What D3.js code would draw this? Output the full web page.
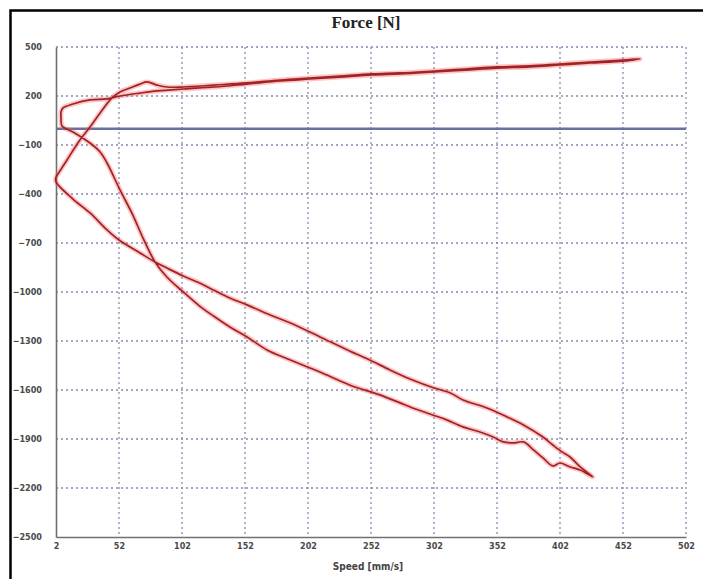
<!DOCTYPE html>
<html>
<head>
<meta charset="utf-8">
<script src="https://cdn.jsdelivr.net/npm/d3@7"></script>
<style>
  body { margin: 0; background: #fff; }
  svg { display: block; }
</style>
</head>
<body>
<svg id="chart"></svg>
<script>
// tick values
var xTicks = [2, 52, 102, 152, 202, 252, 302, 352, 402, 452, 502];
var yTicks = [500, 200, -100, -400, -700, -1000, -1300, -1600, -1900, -2200, -2500];

// loop, in drawing order
// upper stroke: rising from the left axis, out to the end and back
var upSpeed = [2, 10.7, 21, 29, 37, 46.4, 52.8, 60.7, 68.7, 74.2, 82.2, 90, 103, 128, 153.6, 180, 203, 227, 253, 275, 302, 327, 352, 378, 402, 426, 452, 465.5,
    452, 426, 402, 378, 352, 327, 302, 275, 253, 227, 203, 180, 153.6, 128, 103, 82.2, 68.7, 52.8, 42.5, 29, 15.5, 7.6, 6, 6, 6.8];
var upForce = [-296, -192, -69, 10, 96, 188, 225, 249, 273, 286, 267, 255, 255, 267, 280, 298, 310, 322, 335, 341, 353, 365, 378, 384, 396, 408, 420, 427,
    414, 402, 390, 378, 371, 359, 347, 335, 329, 316, 304, 292, 273, 255, 243, 231, 218, 200, 182, 176, 151, 127, 102, 65, 16];

// lower stroke: down to the tip and back to the left axis
var downSpeed = [15.5, 29, 37, 42.5, 52.8, 63, 71, 80.6, 90, 103, 116, 127, 140, 153.6, 169.5, 188, 211.5, 235, 259, 275, 285, 301, 312, 325, 338.5, 349, 357, 365, 373, 381, 388.5, 396.4, 402, 410, 418, 428,
    418, 410, 403.6, 396.4, 388.5, 373, 360, 344, 325, 315, 301, 285, 267, 251, 235, 211.5, 188, 172, 153.6, 140, 127, 116, 103, 90, 80.6, 68.7, 52, 42.5, 29, 15.5, 2, 2];
var downForce = [-20, -88, -143, -210, -375, -529, -669, -816, -908, -1000, -1086, -1147, -1214, -1275, -1355, -1416, -1490, -1569, -1630, -1679, -1710, -1753, -1783, -1826, -1857, -1888, -1918, -1924, -1918, -1967, -2016, -2065, -2047, -2071, -2090, -2132,
    -2071, -2010, -1979, -1937, -1888, -1814, -1765, -1710, -1661, -1618, -1585, -1539, -1477, -1416, -1361, -1275, -1190, -1141, -1079, -1037, -988, -945, -902, -853, -816, -761, -682, -620, -516, -431, -326, -296];

var width = 703,
    height = 579;

var svg = d3.select("#chart")
    .attr("width", width)
    .attr("height", height);

svg.append("rect")
    .attr("x", 0).attr("y", 0)
    .attr("width", width).attr("height", height)
    .attr("fill", "#fff");

// outer frame
svg.append("rect")
    .attr("x", 10.5).attr("y", 10.5)
    .attr("width", 700).attr("height", 600)
    .attr("fill", "none")
    .attr("stroke", "#000")
    .attr("stroke-width", 2.5);

var x = d3.scaleLinear().domain([2, 502]).range([56, 686]);
var y = d3.scaleLinear().domain([-2500, 500]).range([537, 47]);

var grid = svg.append("g").attr("class", "grid");

grid.selectAll("line.vgrid")
    .data(xTicks.slice(1))
    .enter().append("line")
    .attr("class", "vgrid")
    .attr("x1", function (d) { return x(d); })
    .attr("x2", function (d) { return x(d); })
    .attr("y1", y(500))
    .attr("y2", y(-2500))
    .attr("stroke", "#858bb0")
    .attr("stroke-width", 1.3)
    .attr("stroke-dasharray", "2,3");

grid.selectAll("line.hgrid")
    .data(yTicks.slice(0, -1))
    .enter().append("line")
    .attr("class", "hgrid")
    .attr("x1", x(2))
    .attr("x2", x(502))
    .attr("y1", function (d) { return y(d); })
    .attr("y2", function (d) { return y(d); })
    .attr("stroke", "#858bb0")
    .attr("stroke-width", 1.3)
    .attr("stroke-dasharray", "2,3");

// axes
var xAxis = d3.axisBottom(x).tickValues(xTicks).tickFormat(d3.format("d")).tickSize(0).tickPadding(6);
var yAxis = d3.axisLeft(y).tickValues(yTicks).tickFormat(d3.format("d")).tickSize(0).tickPadding(14);

var gx = svg.append("g")
    .attr("transform", "translate(0," + y(-2500) + ")")
    .call(xAxis);

var gy = svg.append("g")
    .attr("transform", "translate(" + x(2) + ",0)")
    .call(yAxis);

[gx, gy].forEach(function (g) {
    g.select(".domain")
        .attr("stroke", "#707070")
        .attr("stroke-width", 1.6);
    g.selectAll("text")
        .attr("fill", "#4a4a4a")
        .style("font-family", "'DejaVu Sans Condensed', 'DejaVu Sans', sans-serif")
        .style("font-weight", "bold")
        .style("font-size", "9px");
});

// zero line
svg.append("line")
    .attr("x1", x(2))
    .attr("x2", x(502))
    .attr("y1", y(0))
    .attr("y2", y(0))
    .attr("stroke", "#6a6f9e")
    .attr("stroke-width", 2.5);

// curve
var line = d3.line()
    .x(function (d) { return x(d[0]); })
    .y(function (d) { return y(d[1]); })
    .curve(d3.curveCatmullRom.alpha(0.5));

var upPts = d3.zip(upSpeed, upForce);
var downPts = d3.zip(downSpeed, downForce);
var loop = upPts.concat(downPts);

svg.append("path")
    .datum(loop)
    .attr("d", line)
    .attr("fill", "none")
    .attr("stroke", "#ff5a5a")
    .attr("stroke-opacity", 0.35)
    .attr("stroke-width", 5)
    .attr("stroke-linejoin", "round");

svg.append("path")
    .datum(loop)
    .attr("d", line)
    .attr("fill", "none")
    .attr("stroke", "#9e2428")
    .attr("stroke-width", 1.7)
    .attr("stroke-linejoin", "round");

// titles
svg.append("text")
    .attr("x", 366)
    .attr("y", 28)
    .attr("text-anchor", "middle")
    .style("font-family", "'Liberation Serif', 'Times New Roman', serif")
    .style("font-weight", "bold")
    .style("font-size", "17px")
    .attr("fill", "#222")
    .text("Force [N]");

svg.append("text")
    .attr("x", 368)
    .attr("y", 570)
    .attr("text-anchor", "middle")
    .style("font-family", "'DejaVu Sans Condensed', 'DejaVu Sans', sans-serif")
    .style("font-weight", "bold")
    .style("font-size", "10px")
    .attr("fill", "#444")
    .text("Speed [mm/s]");
</script>
</body>
</html>
